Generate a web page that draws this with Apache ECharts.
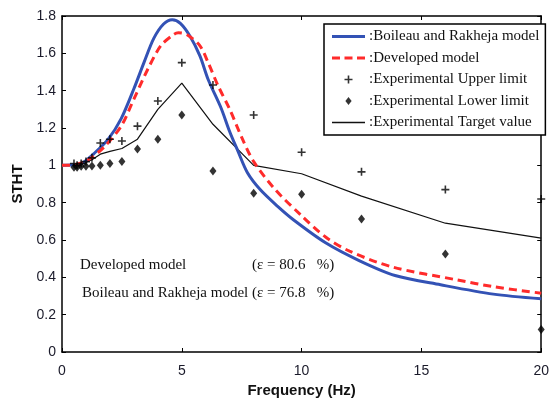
<!DOCTYPE html>
<html>
<head>
<meta charset="utf-8">
<script src="https://cdn.jsdelivr.net/npm/echarts@6/dist/echarts.min.js"></script>
<style>html,body{margin:0;padding:0;background:#fff;}#chart{width:552px;height:403px;}</style>
</head>
<body>
<div id="chart"></div>
<script>
// Experimental 1/3-octave frequencies (Hz)
var freqExp = [0.5, 0.63, 0.8, 1, 1.25, 1.6, 2, 2.5, 3.15, 4, 5, 6.3, 8, 10, 12.5, 16, 20];
var upperLimit = [1.01, 1.0, 1.01, 1.02, 1.04, 1.12, 1.14, 1.13, 1.21, 1.345, 1.55, 1.43, 1.27, 1.07, 0.965, 0.87, 0.82];
var lowerLimit = [0.99, 0.99, 0.995, 0.995, 0.996, 1.0, 1.01, 1.02, 1.087, 1.14, 1.27, 0.97, 0.85, 0.845, 0.712, 0.525, 0.12];
var targetValue = [1.0, 1.0, 1.005, 1.015, 1.03, 1.06, 1.075, 1.09, 1.14, 1.30, 1.44, 1.22, 1.0, 0.955, 0.835, 0.69, 0.61];

// Boileau and Rakheja model
var boileauF = [0, 0.5, 0.82, 1.36, 1.93, 2.47, 3.0, 3.42, 3.83, 4.24, 4.6, 4.94, 5.35, 5.76, 6.1, 6.63, 7.0, 7.33, 7.74, 8.27, 9.0, 9.67, 11, 12.4, 13.9, 15.8, 18, 20];
var boileauV = [1.0, 1.003, 1.01, 1.066, 1.14, 1.25, 1.41, 1.55, 1.68, 1.757, 1.78, 1.76, 1.69, 1.585, 1.46, 1.31, 1.18, 1.08, 0.96, 0.87, 0.78, 0.707, 0.585, 0.49, 0.41, 0.36, 0.31, 0.285];

// Developed model
var devF = [0, 0.5, 1.1, 1.77, 2.47, 3.0, 3.58, 4.12, 4.65, 4.85, 5.22, 5.76, 6.1, 6.5, 7.0, 7.5, 8.0, 8.9, 10, 11, 12, 13.8, 16.5, 18, 20];
var devV = [1.0, 1.003, 1.03, 1.10, 1.21, 1.355, 1.515, 1.64, 1.70, 1.71, 1.70, 1.64, 1.55, 1.43, 1.30, 1.15, 1.02, 0.87, 0.73, 0.616, 0.54, 0.455, 0.386, 0.35, 0.315];

var seriesNames = ['Boileau and Rakheja model', 'Developed model', 'Experimental Upper limit', 'Experimental Lower limit', 'Experimental Target value'];
var noteLines = ['Developed model', '(\u03b5 = 80.6   %)', 'Boileau and Rakheja model (\u03b5 = 76.8   %)'];

function pairs(xs, ys) { return xs.map(function (x, i) { return [x, ys[i]]; }); }

var plusPath = 'path://M3.2,0h1.6v3.2h3.2v1.6h-3.2v3.2h-1.6v-3.2h-3.2v-1.6h3.2z';
var diamondPath = 'path://M3.5,0L7,4.5L3.5,9L0,4.5z';
var solidIcon = 'path://M0,0h33v3h-33z';
var thinIcon = 'path://M0,0h33v1.3h-33z';
var dashIcon = 'path://M0,0h8v3h-8z M12.5,0h8v3h-8z M25,0h8v3h-8z';
var serif = 'Liberation Serif';
var sans = 'Liberation Sans';

var chart = echarts.init(document.getElementById('chart'), null, {renderer: 'canvas'});
var axisLineStyle = {color: '#000', width: 1.5};
chart.setOption({
  animation: false,
  backgroundColor: '#fff',
  grid: {left: 62, right: 4, top: 16, bottom: 51, containLabel: false},
  xAxis: [{
    type: 'value', min: 0, max: 20, interval: 5,
    name: 'Frequency (Hz)', nameLocation: 'middle', nameGap: 23,
    nameTextStyle: {fontFamily: sans, fontWeight: 'bold', fontSize: 15, color: '#111'},
    axisLine: {show: true, onZero: false, lineStyle: axisLineStyle},
    axisTick: {show: true, inside: true, length: 4, lineStyle: {color: '#000', width: 1}},
    axisLabel: {margin: 12, fontFamily: sans, fontSize: 14, color: '#1a1a2a'},
    splitLine: {show: false}
  }, {
    type: 'value', min: 0, max: 20, interval: 5, position: 'top',
    axisLine: {show: true, onZero: false, lineStyle: axisLineStyle},
    axisTick: {show: true, inside: true, length: 4, lineStyle: {color: '#000', width: 1}},
    axisLabel: {show: false}, splitLine: {show: false}
  }],
  yAxis: [{
    type: 'value', min: 0, max: 1.8, interval: 0.2,
    name: 'STHT', nameLocation: 'middle', nameGap: 31, nameRotate: 90,
    nameTextStyle: {fontFamily: sans, fontWeight: 'bold', fontSize: 15, color: '#111'},
    axisLine: {show: true, onZero: false, lineStyle: axisLineStyle},
    axisTick: {show: true, inside: true, length: 4, lineStyle: {color: '#000', width: 1}},
    axisLabel: {margin: 6, fontFamily: sans, fontSize: 14, color: '#1a1a2a',
      formatter: function (v) { return String(Math.round(v * 10) / 10); }},
    splitLine: {show: false}
  }, {
    type: 'value', min: 0, max: 1.8, interval: 0.2, position: 'right',
    axisLine: {show: true, onZero: false, lineStyle: axisLineStyle},
    axisTick: {show: true, inside: true, length: 4, lineStyle: {color: '#000', width: 1}},
    axisLabel: {show: false}, splitLine: {show: false}
  }],
  legend: {
    orient: 'vertical', left: 324, top: 24,
    padding: [5, 6, 5, 8], itemGap: 6.5, itemWidth: 33, itemHeight: 8,
    backgroundColor: '#fff', borderColor: '#000', borderWidth: 1.5,
    data: [
      {name: seriesNames[0], icon: solidIcon},
      {name: seriesNames[1], icon: dashIcon},
      {name: seriesNames[2], icon: plusPath},
      {name: seriesNames[3], icon: diamondPath},
      {name: seriesNames[4], icon: thinIcon}
    ],
    formatter: function (name) { return ':' + name; },
    textStyle: {fontFamily: serif, fontSize: 15, color: '#111', padding: [0, 0, 0, -1]}
  },
  series: [{
    name: seriesNames[0], type: 'line', data: pairs(boileauF, boileauV),
    smooth: 0.3, symbol: 'none', z: 3,
    lineStyle: {color: '#3352b5', width: 3}, itemStyle: {color: '#3352b5'}
  }, {
    name: seriesNames[1], type: 'line', data: pairs(devF, devV),
    smooth: 0.3, symbol: 'none', z: 4,
    lineStyle: {color: '#ff2b2b', width: 3, type: [8, 5]}, itemStyle: {color: '#ff2b2b'}
  }, {
    name: seriesNames[2], type: 'scatter', data: pairs(freqExp, upperLimit),
    symbol: plusPath, symbolSize: 8, z: 5,
    itemStyle: {color: '#000'}
  }, {
    name: seriesNames[3], type: 'scatter', data: pairs(freqExp, lowerLimit),
    symbol: diamondPath, symbolSize: [7, 9], z: 5,
    itemStyle: {color: '#000'}
  }, {
    name: seriesNames[4], type: 'line', data: pairs(freqExp, targetValue),
    smooth: false, symbol: 'none', z: 2,
    lineStyle: {color: '#111', width: 1.2}, itemStyle: {color: '#111'}
  }],
  graphic: [
    {type: 'text', left: 80, top: 258, style: {text: noteLines[0], font: '15px "Liberation Serif"', fill: '#111'}},
    {type: 'text', left: 252, top: 258, style: {text: noteLines[1], font: '15px "Liberation Serif"', fill: '#111'}},
    {type: 'text', left: 82, top: 286, style: {text: noteLines[2], font: '15px "Liberation Serif"', fill: '#111'}}
  ]
});
</script>
</body>
</html>
